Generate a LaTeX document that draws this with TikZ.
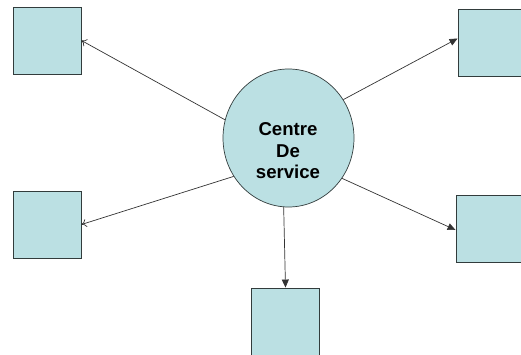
\documentclass[tikz,border=0pt]{standalone}
\usepackage{fontspec}
\setmainfont{Liberation Sans}
\usetikzlibrary{shapes.geometric,arrows.meta}
\definecolor{boxfill}{RGB}{187,224,227}
\definecolor{edge}{RGB}{50,60,60}
\tikzset{
  srv/.style={rectangle, draw=edge, line width=0.9pt, fill=boxfill, minimum width=68pt, minimum height=67pt, inner sep=0pt},
  hub/.style={ellipse, draw=edge, line width=0.7pt, fill=boxfill, minimum width=131pt, minimum height=138pt, inner sep=0pt},
  hubtext/.style={align=center, inner sep=0pt, font=\fontsize{18.6pt}{21.5pt}\selectfont\bfseries},
  openarr/.style={draw=black!80, line width=0.7pt, -{To[length=5pt,width=8pt]}},
  fillarr/.style={draw=black!80, line width=0.7pt, -{Triangle[length=8pt,width=7pt]}}
}
\begin{document}
\begin{tikzpicture}[x=1pt,y=-1pt]
\useasboundingbox (0,0) rectangle (521,355);
\node[hub] (c) at (288.5,138) {};
\node[hubtext] (ct) at (288,151) {Centre\\De\\service};
\node[srv] (tl) at (47,40.5) {};
\node[srv] (tr) at (492,42.5) {};
\node[srv] (ml) at (47,224.5) {};
\node[srv] (mr) at (490,228.5) {};
\node[srv] (bt) at (285.5,321.5) {};
\draw[openarr] (c.164.6) -- (tl.east);
\draw[openarr] (c.215.8) -- (ml.east);
\draw[fillarr] (c.35.2) -- ([yshift=4pt]tr.west);
\draw[fillarr] (c.-37.6) -- ([yshift=-1.5pt]mr.west);
\draw[fillarr] (c.266) -- (bt.north);
\end{tikzpicture}
\end{document}
